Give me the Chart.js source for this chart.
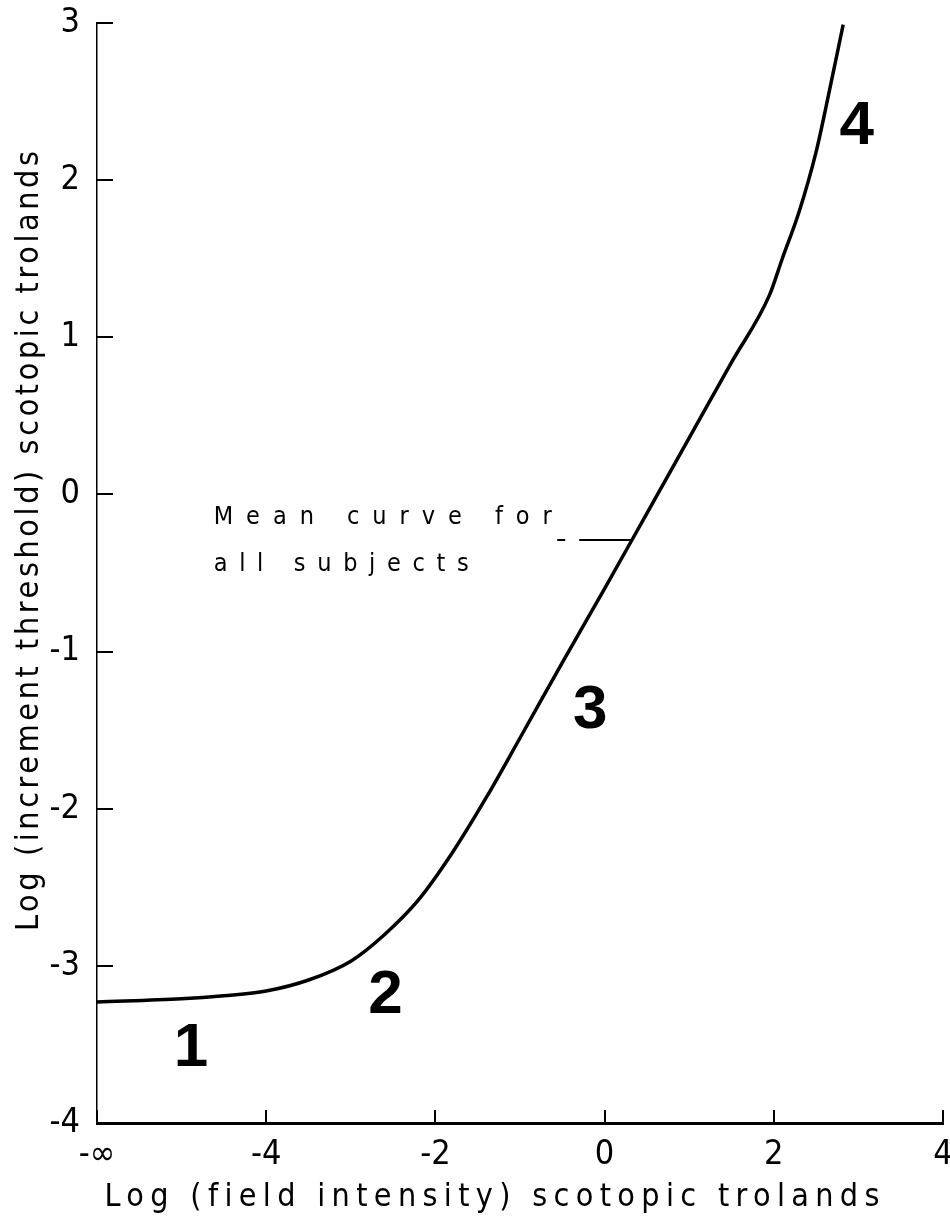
<!DOCTYPE html>
<html><head><meta charset="utf-8">
<script src="https://cdn.jsdelivr.net/npm/chart.js@4.4.1/dist/chart.umd.min.js"></script>
<style>html,body{margin:0;padding:0;background:#fff}#wrap{width:950px;height:1227px;position:relative}</style>
</head><body><div id="wrap"><canvas id="c"></canvas></div>
<script>
// ---- data ----
const fieldIntensity = [-6, -5, -4.5, -4, -3.5, -3, -2.6, -2.2, -1.8, -1.4, -1, -0.5, 0, 0.5, 1, 1.5, 1.95, 2.1, 2.3, 2.5, 2.65, 2.82];
const incrementThreshold = [-3.23, -3.21, -3.19, -3.16, -3.09, -2.97, -2.80, -2.58, -2.28, -1.93, -1.55, -1.07, -0.60, -0.12, 0.36, 0.84, 1.27, 1.50, 1.80, 2.18, 2.55, 2.99];
const xTickValues = [-6, -4, -2, 0, 2, 4];
const xTickLabels = ['-\u221e', '-4', '-2', '0', '2', '4'];
const yTickValues = [-4, -3, -2, -1, 0, 1, 2, 3];
const yTickLabels = ['-4', '-3', '-2', '-1', '0', '1', '2', '3'];
const xAxisTitle = 'Log (field intensity) scotopic trolands';
const yAxisTitle = 'Log (increment threshold) scotopic trolands';
const regionLabels = ['1', '2', '3', '4'];
const regionX = [-4.89, -2.59, -0.17, 2.98];
const regionY = [-3.53, -3.19, -1.38, 2.34];
const noteLines = ['Mean curve for', 'all subjects'];
const noteX = -4.62;
const noteY = [-0.148, -0.443];
const leaderX = [-0.56, 0.33];
const leaderY = -0.29;

// ---- layout / style ----
const FONT = '"DejaVu Sans Condensed", "DejaVu Sans", sans-serif';
const layoutPx = { yTitleX: 30, yTitleCY: 541, yTitleLen: 780, xTitleCX: 492, xTitleY: 1198, xTitleLen: 775,
  noteLen: [338, 255] };

function drawSpaced(ctx, text, x, y, len, font, align) {
  ctx.save();
  ctx.font = font;
  ctx.letterSpacing = '0px';
  const w0 = ctx.measureText(text).width;
  const ls = (len - w0) / Math.max(1, text.length - 1);
  ctx.letterSpacing = ls + 'px';
  ctx.textBaseline = 'middle';
  ctx.textAlign = 'left';
  const startX = align === 'center' ? x - len / 2 : x;
  ctx.fillText(text, startX, y);
  ctx.restore();
}

const annot = {
  id: 'annot',
  afterDraw(chart) {
    const ctx = chart.ctx, xs = chart.scales.x, ys = chart.scales.y;
    ctx.save();
    ctx.fillStyle = '#000';
    ctx.font = 'bold 62px "Liberation Sans", Arial, sans-serif';
    ctx.textAlign = 'center'; ctx.textBaseline = 'middle';
    regionLabels.forEach((t, i) => ctx.fillText(t, xs.getPixelForValue(regionX[i]), ys.getPixelForValue(regionY[i])));
    noteLines.forEach((t, i) => drawSpaced(ctx, t, xs.getPixelForValue(noteX), ys.getPixelForValue(noteY[i]),
      layoutPx.noteLen[i], '25px ' + FONT, 'left'));
    ctx.strokeStyle = '#000'; ctx.lineWidth = 2;
    const ly = ys.getPixelForValue(leaderY);
    const lx0 = xs.getPixelForValue(leaderX[0]), lx1 = xs.getPixelForValue(leaderX[1]);
    ctx.beginPath(); ctx.moveTo(lx0, ly); ctx.lineTo(lx0 + 8, ly); ctx.stroke();
    ctx.beginPath(); ctx.moveTo(lx0 + 22, ly); ctx.lineTo(lx1, ly); ctx.stroke();
    drawSpaced(ctx, xAxisTitle, layoutPx.xTitleCX, layoutPx.xTitleY, layoutPx.xTitleLen, '32px ' + FONT, 'center');
    ctx.save();
    ctx.translate(layoutPx.yTitleX, layoutPx.yTitleCY);
    ctx.rotate(-Math.PI / 2);
    drawSpaced(ctx, yAxisTitle, 0, 0, layoutPx.yTitleLen, '32px ' + FONT, 'center');
    ctx.restore();
    ctx.restore();
  }
};

new Chart(document.getElementById('c'), {
  type: 'line',
  data: {
    datasets: [{
      data: fieldIntensity.map((x, i) => ({ x, y: incrementThreshold[i] })),
      borderColor: '#000', borderWidth: 3.5, pointRadius: 0, fill: false,
      cubicInterpolationMode: 'monotone'
    }]
  },
  options: {
    responsive: true, maintainAspectRatio: false, animation: false,
    layout: { padding: { top: 23, right: 7, left: 0, bottom: 0 } },
    plugins: { legend: { display: false }, tooltip: { enabled: false } },
    scales: {
      x: {
        type: 'linear', min: -6, max: 4,
        afterBuildTicks: s => { s.ticks = xTickValues.map(v => ({ value: v })); },
        afterFit: s => { s.height = 104; s.paddingLeft = 0; s.paddingRight = 0; },
        ticks: { callback: v => xTickLabels[xTickValues.indexOf(v)], color: '#000', font: { family: FONT, size: 34 }, padding: 25, maxRotation: 0, autoSkip: false },
        grid: { drawOnChartArea: false, drawTicks: true, tickLength: -13, color: '#000', lineWidth: 2 },
        border: { color: '#000', width: 3 }
      },
      y: {
        type: 'linear', min: -4, max: 3,
        afterBuildTicks: s => { s.ticks = yTickValues.map(v => ({ value: v })); },
        afterFit: s => { s.width = 97; s.paddingTop = 0; s.paddingBottom = 0; },
        ticks: { callback: v => yTickLabels[yTickValues.indexOf(v)], color: '#000', font: { family: FONT, size: 34 }, padding: 33, autoSkip: false },
        grid: { drawOnChartArea: false, drawTicks: true, tickLength: -16, color: '#000', lineWidth: 2 },
        border: { color: '#000', width: 1.5, dash: [20, 5] }
      }
    }
  },
  plugins: [annot]
});
</script></body></html>
